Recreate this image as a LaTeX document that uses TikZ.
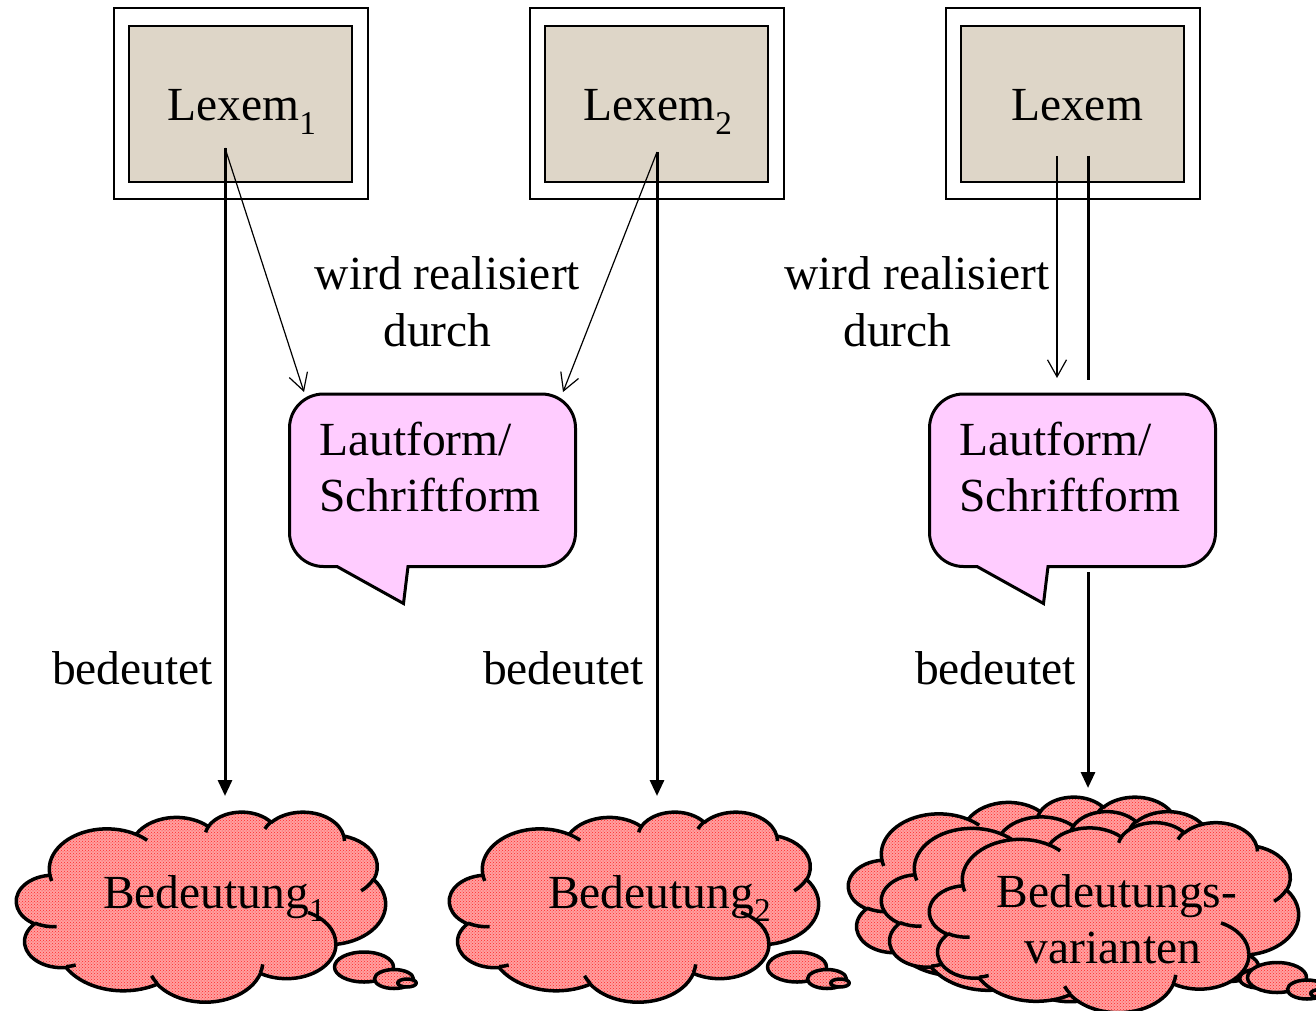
\documentclass[tikz,border=0pt]{standalone}
\usepackage{fontspec}
\setmainfont{Liberation Serif}
\usetikzlibrary{arrows.meta,patterns}
\definecolor{lexfill}{RGB}{222,214,200}
\definecolor{bubblefill}{RGB}{255,204,255}
\definecolor{cloudbase}{RGB}{255,160,160}
\definecolor{clouddot}{RGB}{255,40,40}

% convert an OOXML arcTo (visual angles, y down) into TikZ canvas parametric angles
\newcommand\cloudprep[6]{%
  \pgfmathparse{-atan2((#3)*sin(#5),(#4)*cos(#5))}\let\cptmpA\pgfmathresult
  \pgfmathparse{-atan2((#3)*sin((#5)+(#6)),(#4)*cos((#5)+(#6)))}\let\cptmpB\pgfmathresult
  \pgfmathparse{(\cptmpB)-(\cptmpA)}\let\cptmpD\pgfmathresult
  \pgfmathparse{(\cptmpD)>0 ? (\cptmpD)-360 : (\cptmpD)}\let\cptmpD\pgfmathresult
  \global\let#1\cptmpA\global\let#2\cptmpD}

\cloudprep\ccsA\ccdA{67.53}{91.90}{-190.4875}{123.7805}
\cloudprep\ccsB\ccdB{53.33}{72.67}{-144.1024}{89.9452}
\cloudprep\ccsC\ccdC{43.65}{59.45}{-145.8079}{99.7230}
\cloudprep\ccsD\ccdD{48.57}{65.95}{-130.9861}{117.2417}
\cloudprep\ccsE\ccdE{53.33}{72.73}{-78.7089}{109.0269}
\cloudprep\ccsF\ccdF{67.75}{92.20}{-46.2673}{130.2690}
\cloudprep\ccsG\ccdG{57.85}{78.67}{0.6250}{114.0333}
\cloudprep\ccsH\ccdH{67.52}{92.15}{22.4516}{115.1726}
\cloudprep\ccsI\ccdI{77.20}{105.43}{66.2426}{75.7110}
\cloudprep\ccsJ\ccdJ{43.60}{59.18}{-274.9421}{146.7356}
\cloudprep\ccsK\ccdK{43.45}{59.45}{-246.8285}{152.5189}

\cloudprep\cisA\cidA{43.45}{59.45}{86.742}{26.4295}
\cloudprep\cisB\cidB{43.60}{59.18}{73.6105}{11.4475}
\cloudprep\cisC\cidC{67.52}{92.15}{137.6242}{14.0811}
\cloudprep\cisD\cidD{67.52}{92.15}{6.4533}{15.9984}
\cloudprep\cisE\cidE{57.85}{78.67}{-70.2924}{70.9174}
\cloudprep\cisF\cidF{53.33}{72.73}{30.3180}{27.7515}
\cloudprep\cisG\cidG{48.57}{65.95}{-13.7443}{14.8589}
\cloudprep\cisH\cidH{48.57}{65.95}{-149.1815}{18.1954}
\cloudprep\cisI\cidI{43.65}{59.45}{-163.4943}{17.6864}
\cloudprep\cisJ\cidJ{67.53}{91.90}{-66.7070}{12.3194}
\cloudprep\cisK\cidK{67.53}{91.90}{157.6544}{11.8582}

\newcommand\pptcloud[4]{% left top width height
\begin{scope}[shift={(#1,#2)}]
\pgfmathsetmacro\cSX{(#3)/432}%
\pgfmathsetmacro\cSY{(#4)/432}%
\path[cloudbody] ({39.00*\cSX},{143.70*\cSY})
  arc[start angle=\ccsA, delta angle=\ccdA, x radius={67.53*\cSX*1pt}, y radius={91.90*\cSY*1pt}]
  arc[start angle=\ccsB, delta angle=\ccdB, x radius={53.33*\cSX*1pt}, y radius={72.67*\cSY*1pt}]
  arc[start angle=\ccsC, delta angle=\ccdC, x radius={43.65*\cSX*1pt}, y radius={59.45*\cSY*1pt}]
  arc[start angle=\ccsD, delta angle=\ccdD, x radius={48.57*\cSX*1pt}, y radius={65.95*\cSY*1pt}]
  arc[start angle=\ccsE, delta angle=\ccdE, x radius={53.33*\cSX*1pt}, y radius={72.73*\cSY*1pt}]
  arc[start angle=\ccsF, delta angle=\ccdF, x radius={67.75*\cSX*1pt}, y radius={92.20*\cSY*1pt}]
  arc[start angle=\ccsG, delta angle=\ccdG, x radius={57.85*\cSX*1pt}, y radius={78.67*\cSY*1pt}]
  arc[start angle=\ccsH, delta angle=\ccdH, x radius={67.52*\cSX*1pt}, y radius={92.15*\cSY*1pt}]
  arc[start angle=\ccsI, delta angle=\ccdI, x radius={77.20*\cSX*1pt}, y radius={105.43*\cSY*1pt}]
  arc[start angle=\ccsJ, delta angle=\ccdJ, x radius={43.60*\cSX*1pt}, y radius={59.18*\cSY*1pt}]
  arc[start angle=\ccsK, delta angle=\ccdK, x radius={43.45*\cSX*1pt}, y radius={59.45*\cSY*1pt}]
  -- cycle;
\path[cloudline]
  ({46.93*\cSX},{261.77*\cSY}) arc[start angle=\cisA, delta angle=\cidA, x radius={43.45*\cSX*1pt}, y radius={59.45*\cSY*1pt}]
  ({69.28*\cSX},{348.99*\cSY}) arc[start angle=\cisB, delta angle=\cidB, x radius={43.60*\cSX*1pt}, y radius={59.18*\cSY*1pt}]
  ({164.78*\cSX},{390.90*\cSY}) arc[start angle=\cisC, delta angle=\cidC, x radius={67.52*\cSX*1pt}, y radius={92.15*\cSY*1pt}]
  ({288.27*\cSX},{347.51*\cSY}) arc[start angle=\cisD, delta angle=\cidD, x radius={67.52*\cSX*1pt}, y radius={92.15*\cSY*1pt}]
  ({341.29*\cSX},{229.54*\cSY}) arc[start angle=\cisE, delta angle=\cidE, x radius={57.85*\cSX*1pt}, y radius={78.67*\cSY*1pt}]
  ({417.98*\cSX},{153.54*\cSY}) arc[start angle=\cisF, delta angle=\cidF, x radius={53.33*\cSX*1pt}, y radius={72.73*\cSY*1pt}]
  ({383.24*\cSX},{54.26*\cSY}) arc[start angle=\cisG, delta angle=\cidG, x radius={48.57*\cSX*1pt}, y radius={65.95*\cSY*1pt}]
  ({290.78*\cSX},{39.52*\cSY}) arc[start angle=\cisH, delta angle=\cidH, x radius={48.57*\cSX*1pt}, y radius={65.95*\cSY*1pt}]
  ({221.41*\cSX},{47.20*\cSY}) arc[start angle=\cisI, delta angle=\cidI, x radius={43.65*\cSX*1pt}, y radius={59.45*\cSY*1pt}]
  ({140.00*\cSX},{51.92*\cSY}) arc[start angle=\cisJ, delta angle=\cidJ, x radius={67.53*\cSX*1pt}, y radius={91.90*\cSY*1pt}]
  ({41.27*\cSX},{157.89*\cSY}) arc[start angle=\cisK, delta angle=\cidK, x radius={67.53*\cSX*1pt}, y radius={91.90*\cSY*1pt}];
\path[cloudbody] (347.5,155.5) ellipse[x radius=29.5pt, y radius=15pt];
\path[cloudbody] (377.5,167.5) ellipse[x radius=19.5pt, y radius=9.5pt];
\path[cloudbody] (390.5,171.5) ellipse[x radius=9.3pt, y radius=4pt];
\end{scope}}

\newcommand\bubblepath{(337,566.5) -- (323.5,566.5) .. controls (304.7,566.5) and (289.5,551.3) .. (289.5,532.5) -- (289.5,428) .. controls (289.5,409.2) and (304.7,394) .. (323.5,394) -- (541.5,394) .. controls (560.3,394) and (575.5,409.2) .. (575.5,428) -- (575.5,532.5) .. controls (575.5,551.3) and (560.3,566.5) .. (541.5,566.5) -- (408,566.5) -- (403.5,603.5) -- cycle}

\begin{document}
\begin{tikzpicture}[x=1pt,y=-1pt,
  txt/.style={inner sep=0pt,font=\fontsize{47.5}{57}\selectfont},
  outerbox/.style={draw,line width=2pt,minimum width=254.5pt,minimum height=191pt,inner sep=0pt},
  innerbox/.style={draw,line width=2pt,fill=lexfill,minimum width=222.4pt,minimum height=156.3pt,inner sep=0pt},
  thickarrow/.style={line width=3pt,-{Triangle[length=16pt,width=14pt]}},
  thickline/.style={line width=3pt},
  thinarrow/.style={line width=1.2pt,-{Straight Barb[length=17pt,width=19pt]}},
  cloudbody/.style={draw,line width=3.5pt,line join=round,preaction={fill=cloudbase},pattern=crosshatch dots,pattern color=clouddot},
  cloudline/.style={draw,line width=3.5pt},
  bubble/.style={draw,line width=3pt,line join=miter,fill=bubblefill}]
\useasboundingbox (0,0) rectangle (1316,1011);

% Lexem boxes
\node[outerbox] (o1) at (240.75,103.5) {};
\node[innerbox] (i1) at (240.5,104.2) {};
\node[txt,anchor=base] (lex1) at (242,121) {Lexem\textsubscript{1}};
\node[outerbox] (o2) at (656.75,103.5) {};
\node[innerbox] (i2) at (656.5,104.2) {};
\node[txt,anchor=base] (lex2) at (658,121) {Lexem\textsubscript{2}};
\node[outerbox] (o3) at (1072.75,103.5) {};
\node[innerbox] (i3) at (1072.5,104.2) {};
\node[txt,anchor=base] (lex3) at (1077,121) {Lexem};

% speech bubbles
\draw[bubble] \bubblepath;
\begin{scope}[shift={(640,0)}]
\draw[bubble] \bubblepath;
\end{scope}
\node[txt,anchor=base west] (lf1) at (319,455) {Lautform/};
\node[txt,anchor=base west] (sf1) at (319,511) {Schriftform};
\node[txt,anchor=base west] (lf3) at (959,455) {Lautform/};
\node[txt,anchor=base west] (sf3) at (959,511) {Schriftform};

% clouds
\pptcloud{16.5}{811.5}{369}{190}
\pptcloud{449.5}{811.5}{369}{190}
\pptcloud{848.5}{796.5}{369}{190}
\pptcloud{881.5}{811}{369}{190}
\pptcloud{929.5}{822}{369}{190}
\node[txt,anchor=base west] (bd1) at (103,908) {Bedeutung\textsubscript{1}};
\node[txt,anchor=base west] (bd2) at (548,908) {Bedeutung\textsubscript{2}};
\node[txt,anchor=base] (bv1) at (1117,907) {Bedeutungs-};
\node[txt,anchor=base] (bv2) at (1113,963) {varianten};

% connectors
\coordinate (s1) at (225,148);
\coordinate (b1) at (304,392);
\coordinate (m1) at (225,796);
\coordinate (s2) at (657,152);
\coordinate (b2) at (563,392);
\coordinate (m2) at (657,796);
\coordinate (s3a) at (1057,156);
\coordinate (b3a) at (1057,378);
\coordinate (s3b) at (1088,156);
\coordinate (b3b) at (1088,380);
\coordinate (t3) at (1088,572);
\coordinate (m3) at (1088,788);
\draw[thickarrow] (s1) -- (m1);
\draw[thinarrow] (s1) -- (b1);
\draw[thickarrow] (s2) -- (m2);
\draw[thinarrow] (s2) -- (b2);
\draw[thinarrow] (s3a) -- (b3a);
\draw[thickline] (s3b) -- (b3b);
\draw[thickarrow] (t3) -- (m3);

% labels
\node[txt,anchor=base] (wr1) at (447.5,289) {wird realisiert};
\node[txt,anchor=base] (du1) at (437.5,346) {durch};
\node[txt,anchor=base] (wr3) at (917,289) {wird realisiert};
\node[txt,anchor=base] (du3) at (897.5,346) {durch};
\node[txt,anchor=base] (be1) at (132.5,684) {bedeutet};
\node[txt,anchor=base] (be2) at (563.5,684) {bedeutet};
\node[txt,anchor=base] (be3) at (995.5,684) {bedeutet};
\end{tikzpicture}
\end{document}
